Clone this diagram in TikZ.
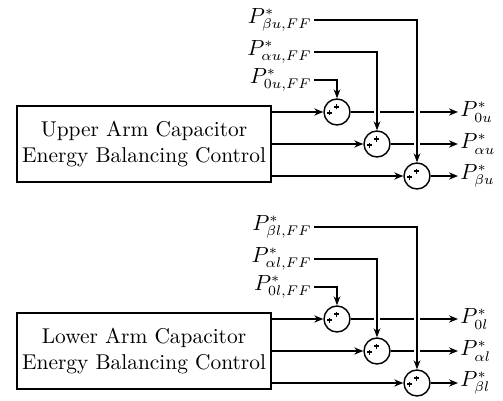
\documentclass[tikz,border=0pt]{standalone}
\usetikzlibrary{arrows.meta}
\newcommand\plusmarks[1]{%
  \draw[plusline] ([shift={(-3.75pt,-0.5pt)}]#1.center) +(-1.25pt,0pt) -- +(1.25pt,0pt) +(0pt,-1.25pt) -- +(0pt,1.25pt);
  \draw[plusline] ([shift={(-0.25pt,2.5pt)}]#1.center) +(-1.25pt,0pt) -- +(1.25pt,0pt) +(0pt,-1.25pt) -- +(0pt,1.25pt);
}
\begin{document}
\begin{tikzpicture}[x=0.5pt,y=-0.5pt,
  font=\fontsize{10.7}{13}\selectfont,
  blk/.style={draw, line width=1pt, minimum width=127pt, minimum height=38pt, align=center, inner sep=0pt},
  sum/.style={circle, draw, line width=0.7pt, minimum size=13pt, inner sep=0pt},
  plusline/.style={line width=0.85pt},
  main/.style={line width=1pt, -{Stealth[length=4.5pt,width=3.6pt]}},
  feed/.style={line width=0.6pt, -{Stealth[length=4.5pt,width=3.4pt]}},
  gapline/.style={white, line width=2.6pt},
  lab/.style={inner sep=1pt}]
\useasboundingbox (0,0) rectangle (503,401);
\foreach \o/\n/\w in {0/u/Upper, 207/l/Lower}{
  \node[blk] (box\n) at (144,144+\o) {\w{} Arm Capacitor\\Energy Balancing Control};
  \node[sum] (s0\n) at (337,112+\o) {};
  \node[sum] (sa\n) at (377,144+\o) {};
  \node[sum] (sb\n) at (417,176+\o) {};
  \plusmarks{s0\n}
  \plusmarks{sa\n}
  \plusmarks{sb\n}
  \node[lab, anchor=east] (fb\n) at (314,20+\o) {$P^*_{\beta \n,FF}$};
  \node[lab, anchor=east] (fa\n) at (314,52+\o) {$P^*_{\alpha \n,FF}$};
  \node[lab, anchor=east] (f0\n) at (314,80+\o) {$P^*_{0\n,FF}$};
  \node[lab, anchor=west] (o0\n) at (458,112+\o) {$P^*_{0\n}$};
  \node[lab, anchor=west] (oa\n) at (458,144+\o) {$P^*_{\alpha \n}$};
  \node[lab, anchor=west] (ob\n) at (458,176+\o) {$P^*_{\beta \n}$};
  % horizontal signal paths
  \draw[main] (box\n.east |- s0\n) -- (s0\n.west);
  \draw[main] (box\n.east |- sa\n) -- (sa\n.west);
  \draw[main] (box\n.east |- sb\n) -- (sb\n.west);
  \draw[main] (s0\n.east) -- (o0\n.west);
  \draw[main] (sa\n.east) -- (oa\n.west);
  \draw[main] (sb\n.east) -- (ob\n.west);
  % crossing gaps
  \draw[gapline] (sa\n |- fa\n) -- ([yshift=4pt]sa\n.north);
  \draw[gapline] (sb\n |- fb\n) -- ([yshift=4pt]sb\n.north);
  % feed-forward paths
  \draw[feed] (f0\n.east) -| (s0\n.north);
  \draw[feed] (fa\n.east) -| (sa\n.north);
  \draw[feed] (fb\n.east) -| (sb\n.north);
}
\end{tikzpicture}
\end{document}
